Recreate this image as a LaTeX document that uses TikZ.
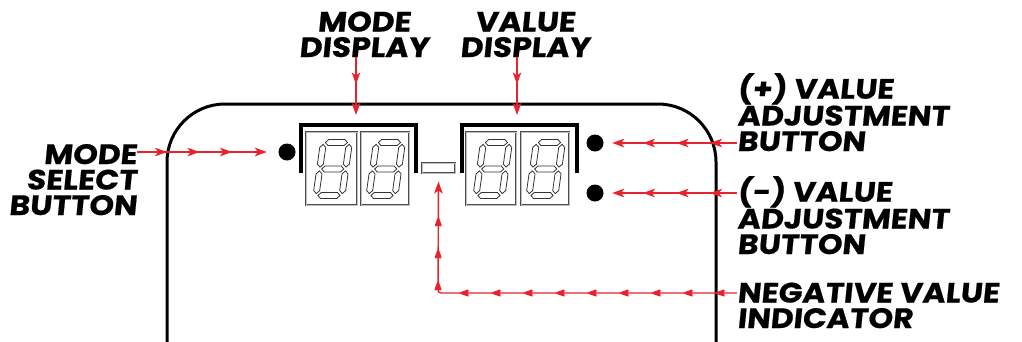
\documentclass[tikz,border=0pt]{standalone}
\usepackage{fontspec}
\newfontfamily\lab{Poppins}[FakeSlant=0.1, FakeStretch=1.12, FakeBold=0.6]
\usetikzlibrary{arrows.meta,decorations.markings}
\definecolor{arr}{HTML}{E8232D}
\newcommand\hsg[3]{\draw[sg] (#1,#3) -- (#1+3,#3+3) -- (#2-3,#3+3) -- (#2,#3) -- (#2-3,#3-3) -- (#1+3,#3-3) -- cycle;}
\newcommand\vsg[3]{\draw[sg] (#1,#2) -- (#1+3,#2+3) -- (#1+3,#3-3) -- (#1,#3) -- (#1-3,#3-3) -- (#1-3,#2+3) -- cycle;}
\newcommand\dgt[2]{%
\begin{scope}[shift={(#1,#2)},x=1pt,y=1pt,xslant=0.14]
\hsg{1.9}{24.1}{53}
\vsg{26}{28.4}{51.1}
\vsg{26}{1.9}{24.6}
\hsg{1.9}{24.1}{0}
\vsg{0}{1.9}{24.6}
\vsg{0}{28.4}{51.1}
\hsg{1.9}{24.1}{26.5}
\end{scope}}
\newcommand\tp{\fill[arr] (0pt,0pt) -- (-12pt,4.3pt) -- (-9pt,0pt) -- (-12pt,-4.3pt) -- cycle;}
\tikzset{
  sg/.style={draw=black!80, line width=0.8pt, line join=miter},
  cell/.style={draw=black!70, line width=1.1pt, double=black!25, double distance=0.6pt},
  brk/.style={draw=black, line width=3.6pt, line join=miter},
  dot/.style={circle, fill=black, inner sep=0pt, minimum size=17pt},
  lbl/.style={font=\lab\bfseries\fontsize{28}{25.5}\selectfont, inner sep=0pt, text=black},
  ra/.style={draw=arr, line width=1.4pt, -{Stealth[length=12pt,width=8.6pt,inset=3pt]}},
}
\begin{document}
\begin{tikzpicture}[x=1pt,y=-1pt]
\useasboundingbox (0,0) rectangle (1022,341);
% housing
\draw[line width=3pt, rounded corners=58pt] (167,350) -- (167,104) -- (716,104) -- (716,350);
% brackets
\draw[brk] (301,173) -- (301,125) -- (416,125) -- (416,173);
\draw[brk] (462,173) -- (462,125) -- (577,125) -- (577,173);
% cells
\draw[cell] (306,132) rectangle (357,205);
\draw[cell] (361,132) rectangle (409,205);
\draw[cell] (466,132) rectangle (516,205);
\draw[cell] (521,132) rectangle (569,205);
\dgt{316}{195.5}
\dgt{369}{195.5}
\dgt{476}{195.5}
\dgt{529}{195.5}
% negative indicator
\node[draw=black!70, line width=1.1pt, double=black!25, double distance=0.6pt, minimum width=33pt, minimum height=10pt, inner sep=0pt] (negi) at (438.5,168) {};
% dots
\node[dot] (msb) at (287,152) {};
\node[dot] (pdot) at (595,143) {};
\node[dot] (mdot) at (595,193) {};
% labels
\node[lbl, anchor=base, align=center] (mdisp) at (364,57) {MODE\\DISPLAY};
\node[lbl, anchor=base, align=center] (vdisp) at (525,57) {VALUE\\DISPLAY};
\node[lbl, anchor=base east, align=right] (msel) at (137,215) {MODE\\SELECT\\BUTTON};
\node[lbl, anchor=base west, align=left] (plus) at (737,151) {(+) VALUE\\ADJUSTMENT\\BUTTON};
\node[lbl, anchor=base west, align=left] (minus) at (737,254) {(-) VALUE\\ADJUSTMENT\\BUTTON};
\node[lbl, anchor=base west, align=left] (neg) at (737,328) {NEGATIVE VALUE\\INDICATOR};
% connectors
\coordinate (mdtip) at (356,115);
\coordinate (vdtip) at (517,115);
\draw[ra, postaction=decorate, decoration={markings, mark=at position 27pt with {\tp}}] (mdisp.south -| mdtip) -- (mdtip);
\draw[ra, postaction=decorate, decoration={markings, mark=at position 27pt with {\tp}}] (vdisp.south -| vdtip) -- (vdtip);
\draw[ra, shorten >=11.5pt, postaction=decorate, decoration={markings, mark=between positions 30pt and 96pt step 32.5pt with {\tp}}] (msel.east |- msb) -- (msb);
\draw[ra, shorten >=8.5pt, postaction=decorate, decoration={markings, mark=between positions 27pt and 95pt step 33.5pt with {\tp}}] (plus.west |- pdot) -- (pdot);
\draw[ra, shorten >=8.5pt, postaction=decorate, decoration={markings, mark=between positions 27pt and 95pt step 33.5pt with {\tp}}] (minus.west |- mdot) -- (mdot);
\coordinate (nc) at (438,293);
\draw[ra, rounded corners=3pt, shorten >=8pt, postaction=decorate, decoration={markings, mark=between positions 23pt and 380pt step 32pt with {\tp}}] (neg.west |- nc) -- (nc) -- (negi.south);
\end{tikzpicture}
\end{document}
